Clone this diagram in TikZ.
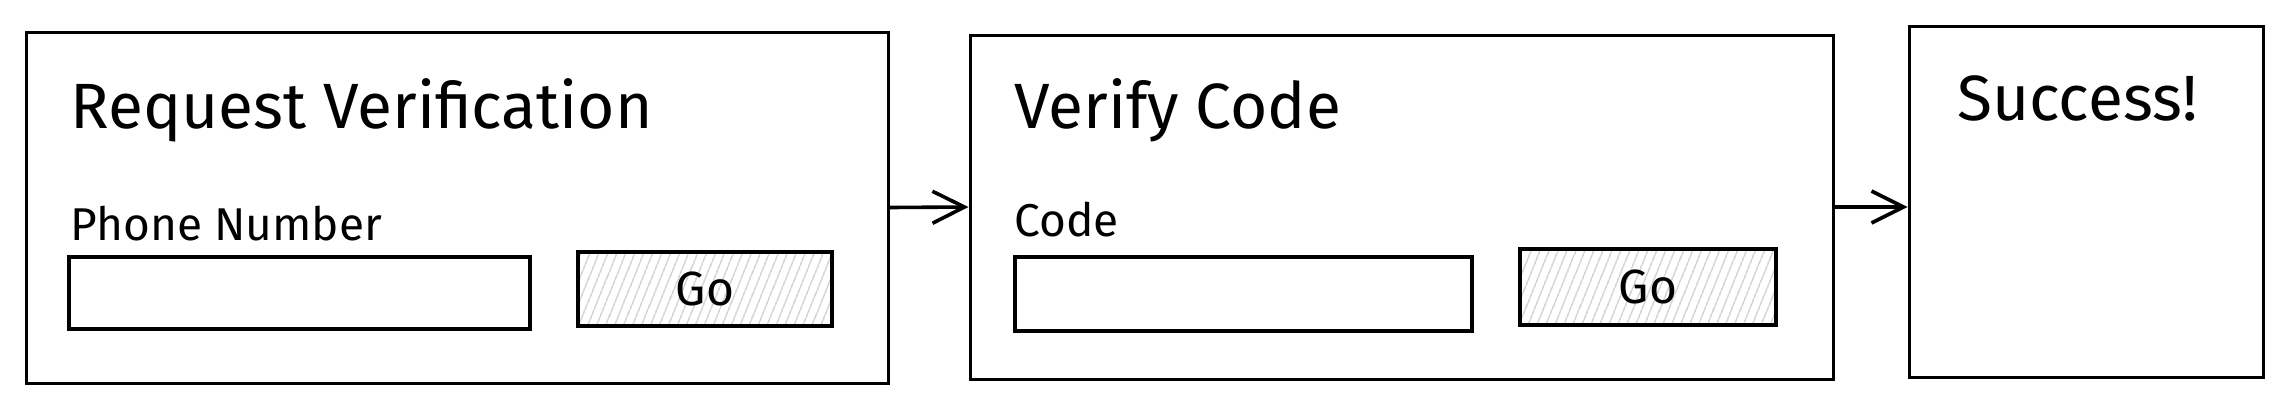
\documentclass[tikz,border=0pt]{standalone}
\usepackage{fontspec}
\setmainfont{Fira Sans}
\usetikzlibrary{arrows.meta,fit,patterns.meta}

\definecolor{hatch}{HTML}{B9C0C8}

\tikzset{
  screen/.style={draw, line width=1.5pt, inner sep=0pt},
  field/.style={draw, line width=1.8pt, inner sep=0pt},
  gobtn/.style={draw, line width=1.8pt, inner sep=0pt,
    pattern={Lines[angle=68,distance=4pt,line width=0.55pt]}, pattern color=hatch},
  gotext/.style={inner sep=0pt, font=\fontsize{24}{26}\selectfont},
  heading/.style={anchor=base west, inner sep=0pt, font=\fontsize{32}{34}\selectfont},
  fieldname/.style={anchor=base west, inner sep=0pt, font=\fontsize{23}{25}\selectfont},
  flow/.style={-{Straight Barb[length=16pt,width=16pt,line width=1.8pt]}, line width=1.8pt},
}

\begin{document}
\begin{tikzpicture}[x=0.5pt,y=-0.5pt]
        \useasboundingbox (0,0) rectangle (2294,413);
        % screens
        \node[screen, fit={(26,32) (888,383)}] (req) {};
        \node[screen, fit={(970,35) (1833,379)}] (verify) {};
        \node[screen, fit={(1909,26) (2263,377)}] (done) {};
        % request verification
        \node[heading] (reqtitle) at (70,128) {Request Verification};
        \node[fieldname] (phonename) at (70,240) {Phone Number};
        \node[field, fit={(69,257) (530,329)}] (phone) {};
        \node[gobtn, fit={(578,252) (832,326)}] (go1) {};
        \node[gotext] (go1text) at (go1.center) {Go};
        % verify code
        \node[heading] (verifytitle) at (1014,128) {Verify Code};
        \node[fieldname] (codename) at (1014,236) {Code};
        \node[field, fit={(1015,257) (1472,331)}] (code) {};
        \node[gobtn, fit={(1520,249) (1776,325)}] (go2) {};
        \node[gotext] (go2text) at (go2.center) {Go};
        % success
        \node[heading] (donetitle) at (1957,120) {Success!};
        % arrows
        \draw[flow] (req.east) -- (verify.west);
        \draw[flow] (verify.east) -- (verify.east -| done.west);
      \end{tikzpicture}
\end{document}
